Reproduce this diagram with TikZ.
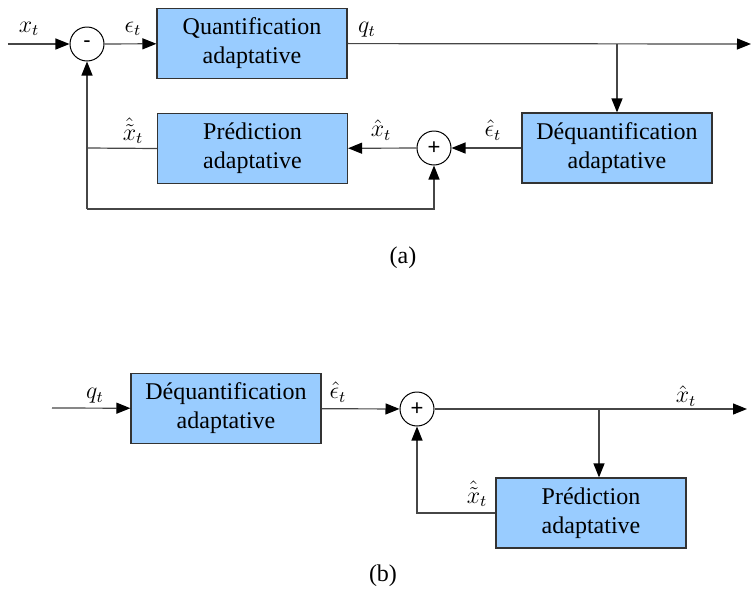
\documentclass[tikz,border=0pt]{standalone}
\usepackage{fontspec}
\setmainfont{Liberation Serif}
\newfontfamily\boxfont{Liberation Serif}
\newfontfamily\signfont{Liberation Sans}
\usetikzlibrary{arrows.meta}
\definecolor{boxblue}{RGB}{153,204,255}
\definecolor{linegray}{RGB}{70,70,70}
\begin{document}
\begin{tikzpicture}[x=0.5pt,y=-0.5pt,
  font=\boxfont\fontsize{12}{13}\selectfont,
  block/.style={draw=black!80,fill=boxblue,line width=0.6pt,minimum width=95pt,minimum height=35pt,inner sep=0pt,align=center,font=\boxfont\fontsize{12}{14.5}\selectfont},
  sumnode/.style={circle,draw=black,line width=0.5pt,minimum size=17pt,inner sep=0pt,font=\signfont\fontsize{11}{12}\selectfont},
  wire/.style={draw=linegray,line width=0.6pt},
  arr/.style={wire,-{Triangle[length=7pt,width=5.5pt,fill=black,color=black]}},
  lbl/.style={inner sep=0pt}]
\useasboundingbox (0,0) rectangle (752,590);
% ---------- (a) ----------
\coordinate (in) at (8,44);
\node[sumnode] (sub) at (87,44) {-};
\node[block] (Q) at (252,43.5) {Quantification\\adaptative};
\coordinate (out) at (751,44);
\coordinate (br) at (617,44);
\node[block] (DQ) at (617,148) {Déquantification\\adaptative};
\node[sumnode] (add) at (434,148) {+};
\node[block] (P) at (252.5,148.5) {Prédiction\\adaptative};
\coordinate (c1) at (87,148);
\coordinate (c2) at (87,209);
\coordinate (c3) at (434,209);
\draw[arr] (in) -- (sub);
\draw[arr] (sub) -- (Q);
\draw[arr] (Q) -- (out);
\draw[arr] (br) -- (br |- DQ.north);
\draw[arr] (DQ) -- (add);
\draw[arr] (add) -- (P);
\draw[wire] (P.west) -- (c1);
\draw[arr] (c2) -- (sub);
\draw[arr] (c2) -- (c3) -- (add);
\node[lbl] at (29,29) {$x_t$};
\node[lbl] at (133,29) {$\epsilon_t$};
\node[lbl] at (367,30) {$q_t$};
\node[lbl] at (133,131) {$\hat{\tilde{x}}_t$};
\node[lbl] at (381,130) {$\hat{x}_t$};
\node[lbl] at (493,130) {$\hat{\epsilon}_t$};
\node[lbl] at (403,258) {(a)};
% ---------- (b) ----------
\coordinate (in2) at (52,408);
\node[block] (DQ2) at (226,408.5) {Déquantification\\adaptative};
\node[sumnode] (add2) at (417,409) {+};
\coordinate (out2) at (747,409);
\coordinate (br2) at (599,409);
\node[block] (P2) at (591,513) {Prédiction\\adaptative};
\coordinate (c4) at (417,513);
\draw[arr] (in2) -- (DQ2);
\draw[arr] (DQ2) -- (add2);
\draw[arr] (add2) -- (out2);
\draw[arr] (br2) -- (br2 |- P2.north);
\draw[arr] (P2.west) -- (c4) -- (add2);
\node[lbl] at (95,396) {$q_t$};
\node[lbl] at (338,392) {$\hat{\epsilon}_t$};
\node[lbl] at (686,396) {$\hat{x}_t$};
\node[lbl] at (477,494) {$\hat{\tilde{x}}_t$};
\node[lbl] at (383,576) {(b)};
\end{tikzpicture}
\end{document}
